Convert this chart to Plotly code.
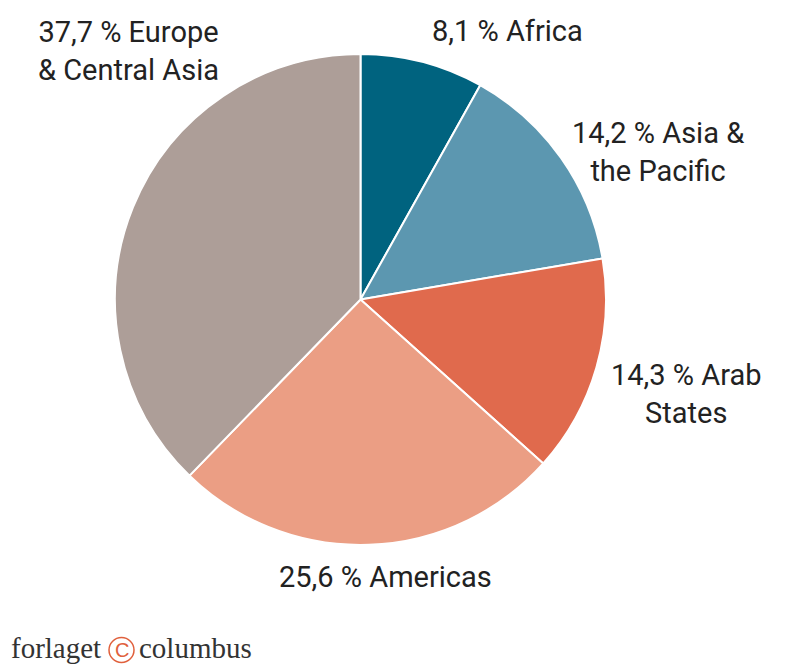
import plotly.graph_objects as go

regions = ["Africa", "Asia & the Pacific", "Arab States", "Americas", "Europe & Central Asia"]
shares = [8.1, 14.2, 14.3, 25.6, 37.7]
label_texts = ["8,1 % Africa", "14,2 % Asia &<br>the Pacific", "14,3 % Arab<br>States",
               "25,6 % Americas", "37,7 % Europe<br>& Central Asia"]
colors = ["#00637f", "#5c97b0", "#e06a4d", "#eb9e84", "#ad9e98"]

# page offset of the plot div (default body margin)
OFF = 8
W, H = 803 - OFF, 668 - OFF


def px(x):
    return (x - OFF) / W


def py(y):
    return 1 - (y - OFF) / H


cx, cy, r = 360.5, 299.5, 245.5

fig = go.Figure(go.Pie(
    labels=regions, values=shares, sort=False, direction="clockwise", rotation=0,
    marker=dict(colors=colors, line=dict(color="white", width=2)),
    textinfo="none", hoverinfo="label+percent", showlegend=False,
    domain=dict(x=[px(cx - r), px(cx + r)], y=[py(cy + r), py(cy - r)]),
))

label_pos = [(507, 31), (658, 152), (686, 394), (385, 577), (128, 51)]
annotations = []
for txt, (x, y) in zip(label_texts, label_pos):
    annotations.append(dict(x=px(x), y=py(y), xref="paper", yref="paper", text=txt,
                            showarrow=False, xanchor="center", yanchor="middle", align="center",
                            font=dict(family="Roboto", size=29, color="#222222")))

# publisher logo
annotations.append(dict(x=px(9), y=py(648), xref="paper", yref="paper", text="forlaget",
                        showarrow=False, xanchor="left", yanchor="middle",
                        font=dict(family="Liberation Serif", size=29, color="#333333")))
annotations.append(dict(x=px(121.5), y=py(650), xref="paper", yref="paper", text="C",
                        showarrow=False, xanchor="center", yanchor="middle",
                        font=dict(family="Liberation Sans", size=20, color="#e0603c")))
annotations.append(dict(x=px(137), y=py(648), xref="paper", yref="paper", text="columbus",
                        showarrow=False, xanchor="left", yanchor="middle",
                        font=dict(family="Liberation Serif", size=29, color="#333333")))

fig.update_layout(
    width=W, height=H, margin=dict(l=0, r=0, t=0, b=0),
    paper_bgcolor="white", plot_bgcolor="white",
    annotations=annotations,
    shapes=[dict(type="circle", xref="paper", yref="paper",
                 x0=px(109), x1=px(134), y0=py(662.5), y1=py(637.5),
                 line=dict(color="#e0603c", width=1.5))],
)

fig.write_html("out.html")
